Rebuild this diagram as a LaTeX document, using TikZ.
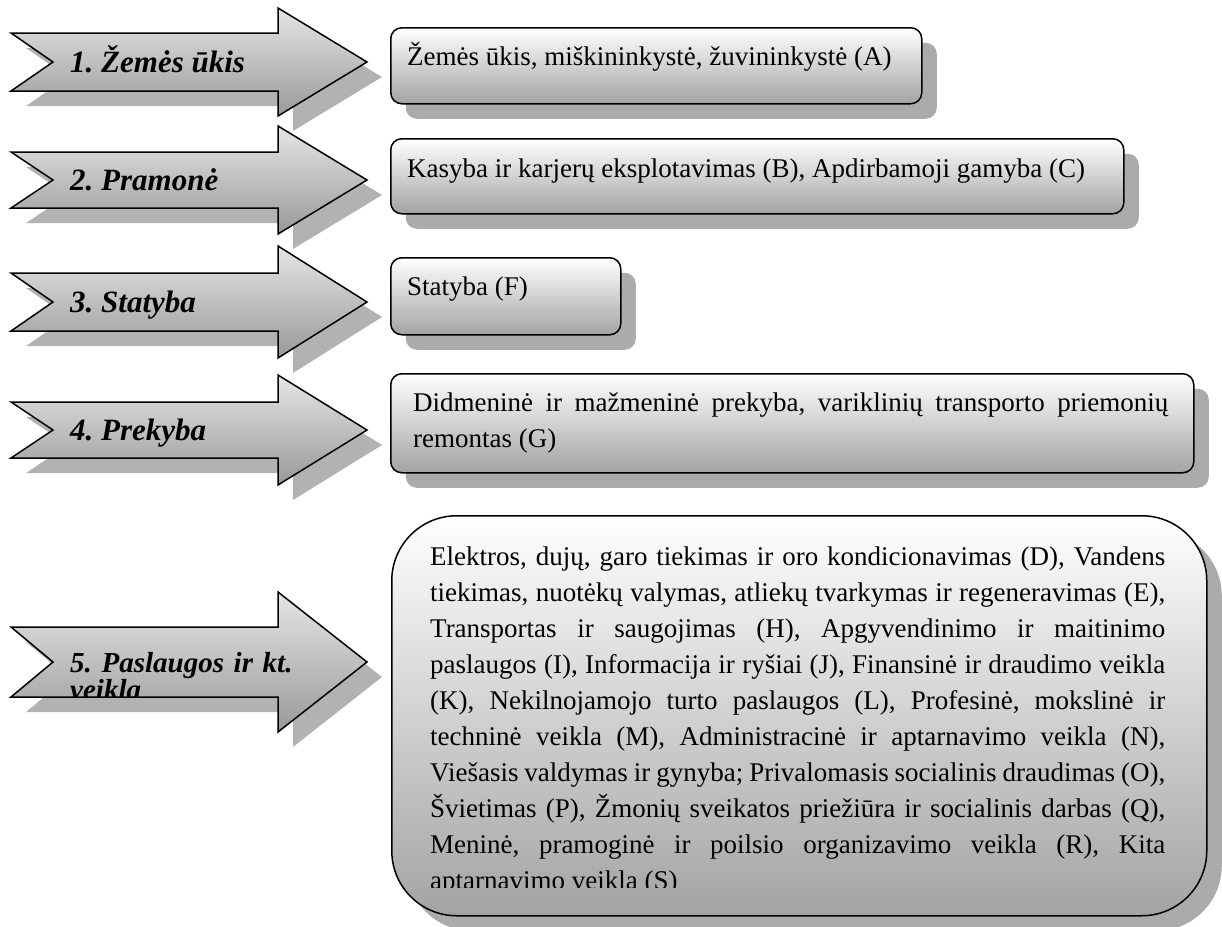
\documentclass[tikz,border=0pt]{standalone}
\usepackage{fontspec}
\setmainfont{Liberation Serif}
\usetikzlibrary{shadows}
\frenchspacing

\newcommand{\sectorarrow}[3]{(11,#1-#2) -- (278,#1-#2) -- (278,#1-#3) -- (367,#1) -- (278,#1+#3) -- (278,#1+#2) -- (11,#1+#2) -- (53,#1) -- cycle}

\begin{document}
\begin{tikzpicture}[x=1pt, y=-1pt]
				\tikzstyle{every node}=[inner sep=0pt]
				\tikzstyle{arrowbody}=[draw=black, line width=1.5pt, top color=black!10, bottom color=black!40]
				\tikzstyle{arrowshadow}=[fill=black!30, shift={(15,15)}]
				\tikzstyle{sector}=[font=\fontsize{31}{25}\selectfont\bfseries\itshape, anchor=base west]
				\tikzstyle{box}=[draw, line width=1.5pt, rounded corners=11pt, top color=white, bottom color=black!36, drop shadow={shadow xshift=15pt, shadow yshift=-15pt, fill=black!33, opacity=1}, anchor=north west]
				\tikzstyle{content}=[font=\fontsize{27}{36}\selectfont, anchor=base west]
				\useasboundingbox (0,0) rectangle (1222,926);
				\fill[arrowshadow] \sectorarrow{62}{29}{54};
				\path[arrowbody] \sectorarrow{62}{29}{54};
				\node[sector] (S1) at (70,72) {1. Žemės ūkis};
				\fill[arrowshadow] \sectorarrow{180}{28}{54};
				\path[arrowbody] \sectorarrow{180}{28}{54};
				\node[sector] (S2) at (70,190) {2. Pramonė};
				\fill[arrowshadow] \sectorarrow{302}{29}{56};
				\path[arrowbody] \sectorarrow{302}{29}{56};
				\node[sector] (S3) at (70,312) {3. Statyba};
				\fill[arrowshadow] \sectorarrow{430}{28}{55};
				\path[arrowbody] \sectorarrow{430}{28}{55};
				\node[sector] (S4) at (70,440) {4. Prekyba};
				\fill[arrowshadow] \sectorarrow{662}{35}{70};
				\path[arrowbody] \sectorarrow{662}{35}{70};
				\begin{scope}
					\clip \sectorarrow{662}{35}{70};
					\node[sector, font=\fontsize{29}{25}\selectfont\bfseries\itshape, text width=260pt, align=left] (S5) at (70,672) {5. Paslaugos ir kt.\\veikla};
				\end{scope}
				\node[box, minimum width=531pt, minimum height=76pt] (B1) at (390,27) {};
				\node[content] (T1) at (407,65) {Žemės ūkis, miškininkystė, žuvininkystė (A)};
				\node[box, minimum width=733pt, minimum height=75pt] (B2) at (390,138) {};
				\node[content] (T2) at (407,177) {Kasyba ir karjerų eksplotavimas (B), Apdirbamoji gamyba (C)};
				\node[box, minimum width=230pt, minimum height=77pt] (B3) at (390,257) {};
				\node[content] (T3) at (407,295) {Statyba (F)};
				\node[box, minimum width=803pt, minimum height=99pt] (B4) at (390,373) {};
				\node[content, text width=755pt, align=justify] (T4) at (413,411) {Didmeninė ir mažmeninė prekyba, variklinių transporto priemonių\linebreak remontas (G)};
				\node[box, rounded corners=65pt, minimum width=815pt, minimum height=400pt] (B5) at (391,515) {};
				\begin{scope}
					\clip (380,500) rectangle (1222,887);
					\node[content, text width=735pt, align=justify] (T5) at (430,565) {Elektros, dujų, garo tiekimas ir oro kondicionavimas (D), Vandens\linebreak tiekimas, nuotėkų valymas, atliekų tvarkymas ir regeneravimas (E),\linebreak Transportas ir saugojimas (H), Apgyvendinimo ir maitinimo\linebreak paslaugos (I), Informacija ir ryšiai (J), Finansinė ir draudimo veikla\linebreak (K), Nekilnojamojo turto paslaugos (L), Profesinė, mokslinė ir\linebreak techninė veikla (M), Administracinė ir aptarnavimo veikla (N),\linebreak Viešasis valdymas ir gynyba; Privalomasis socialinis draudimas (O),\linebreak Švietimas (P), Žmonių sveikatos priežiūra ir socialinis darbas (Q),\linebreak Meninė, pramoginė ir poilsio organizavimo veikla (R), Kita\linebreak aptarnavimo veikla (S)};
				\end{scope}
\end{tikzpicture}
\end{document}
